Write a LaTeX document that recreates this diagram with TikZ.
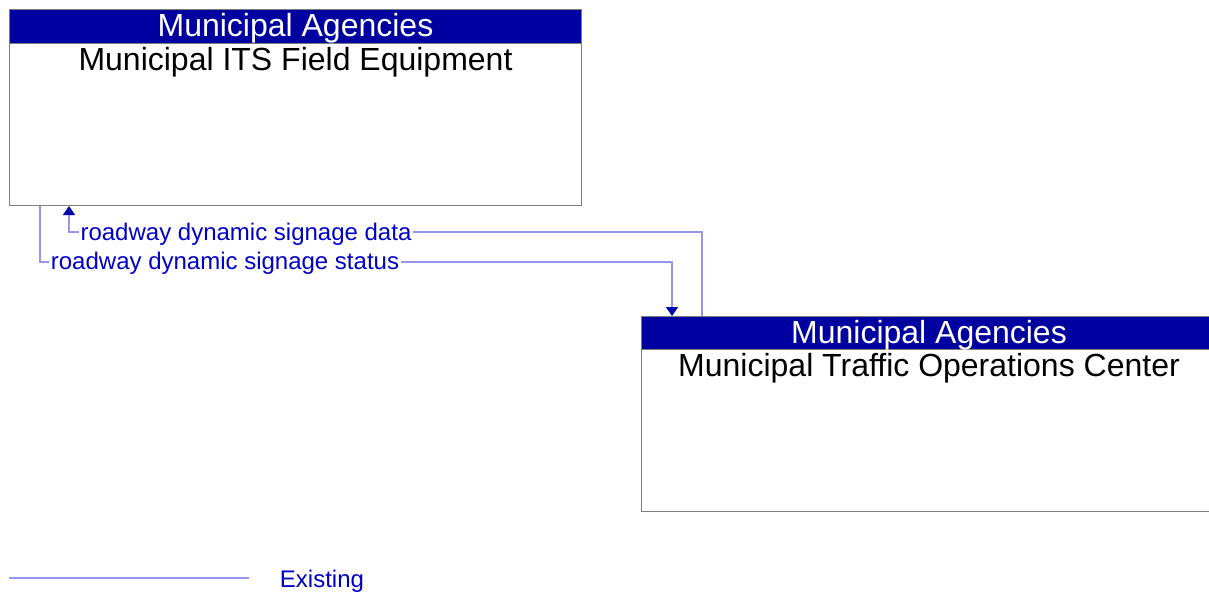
\documentclass[tikz,border=0pt]{standalone}
\usepackage{fontspec}
\setmainfont{Liberation Sans}
\usetikzlibrary{arrows.meta,calc}
\definecolor{hdrblue}{RGB}{0,0,160}
\definecolor{tipblue}{RGB}{0,0,175}
\definecolor{flowline}{RGB}{150,150,235}
\definecolor{flowtext}{RGB}{0,0,200}
\definecolor{boxedge}{RGB}{125,125,125}

\begin{document}
\begin{tikzpicture}[x=1pt,y=-1pt,
  elem/.style={draw=boxedge, line width=1pt, fill=white, anchor=north west, inner sep=0pt},
  hdr/.style={draw=boxedge, line width=1pt, fill=hdrblue, anchor=north west, inner sep=0pt},
  hdrtext/.style={inner sep=0pt, text=white, font=\fontsize{32}{36}\selectfont},
  elemname/.style={inner sep=0pt, text=black, font=\fontsize{32}{36}\selectfont},
  flow/.style={draw=flowline, line width=1.4pt,
    -{Triangle[width=12pt,length=9pt,color=tipblue,fill=tipblue]}},
  flowlbl/.style={fill=white, inner xsep=1.5pt, inner ysep=1pt, text=flowtext,
    font=\fontsize{24}{28}\selectfont},
]
\useasboundingbox (0,0) rectangle (1209,592);

% Field equipment element
\node[elem, minimum width=572pt, minimum height=196pt] (fieldbox) at (9,9) {};
\node[hdr, minimum width=572pt, minimum height=34pt] (fieldhdr) at (9,9) {};
\node[hdrtext] (fieldorg) at ($(fieldhdr.center)+(0,2)$) {Municipal Agencies};
\node[elemname] (fieldname) at ($(fieldhdr.south)+(0,18)$) {Municipal ITS Field Equipment};

% Traffic operations center element (runs past the right edge)
\node[elem, minimum width=575pt, minimum height=195pt] (tocbox) at (641,316) {};
\node[hdr, minimum width=575pt, minimum height=33pt] (tochdr) at (641,316) {};
\node[hdrtext] (tocorg) at ($(tochdr.center)+(0,2)$) {Municipal Agencies};
\node[elemname] (tocname) at ($(tochdr.south)+(0,18)$) {Municipal Traffic Operations Center};

% Flow end points on the element borders
\coordinate (dataStart) at ($(tocbox.north west)+(61,0)$);
\coordinate (dataEnd) at ($(fieldbox.south west)+(60,0)$);
\coordinate (statStart) at ($(fieldbox.south west)+(31,0)$);
\coordinate (statEnd) at ($(tocbox.north west)+(31,0)$);

% Flows
\draw[flow] (dataStart) -- ++(0,-84) -| (dataEnd);
\draw[flow] (statStart) -- ++(0,56) -| (statEnd);
\node[flowlbl] (datalbl) at (246,234) {roadway dynamic signage data};
\node[flowlbl] (statlbl) at (225,263) {roadway dynamic signage status};

% Legend
\coordinate (legA) at (9,578);
\coordinate (legB) at (249,578);
\draw[draw=flowline, line width=2pt] (legA) -- (legB);
\node[flowlbl, fill=none] (legtxt) at (322,581) {Existing};
\end{tikzpicture}
\end{document}
